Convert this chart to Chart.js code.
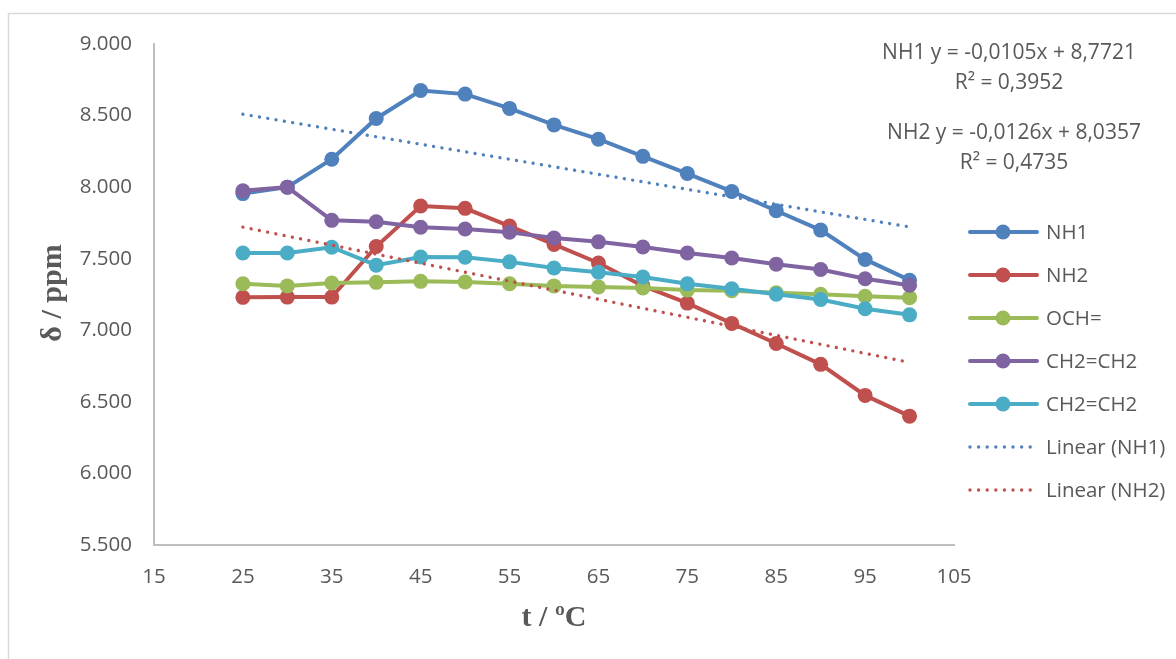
<!DOCTYPE html>
<html>
<head>
<meta charset="utf-8">
<script src="https://cdn.jsdelivr.net/npm/chart.js@4/dist/chart.umd.min.js"></script>
<style>
html,body{margin:0;padding:0;background:#fff;}
#wrap{position:relative;width:1176px;height:659px;}
canvas{display:block;}
</style>
</head>
<body>
<div id="wrap"><canvas id="c" width="1176" height="659"></canvas></div>
<script>
// ---- data ----
const temps = [25, 30, 35, 40, 45, 50, 55, 60, 65, 70, 75, 80, 85, 90, 95, 100];
const nh1   = [7.955, 8.000, 8.195, 8.480, 8.675, 8.650, 8.550, 8.435, 8.335, 8.215, 8.095, 7.970, 7.835, 7.700, 7.495, 7.350];
const nh2   = [7.230, 7.232, 7.232, 7.585, 7.868, 7.852, 7.728, 7.600, 7.470, 7.310, 7.190, 7.048, 6.908, 6.762, 6.545, 6.400];
const och   = [7.325, 7.310, 7.330, 7.335, 7.342, 7.337, 7.325, 7.310, 7.303, 7.295, 7.282, 7.277, 7.262, 7.252, 7.238, 7.228];
const ch2a  = [7.975, 8.000, 7.768, 7.758, 7.720, 7.708, 7.685, 7.645, 7.618, 7.582, 7.540, 7.505, 7.462, 7.425, 7.360, 7.315];
const ch2b  = [7.540, 7.540, 7.580, 7.455, 7.512, 7.510, 7.478, 7.435, 7.405, 7.372, 7.325, 7.290, 7.252, 7.215, 7.150, 7.108];
const seriesNames = ['NH1', 'NH2', 'OCH=', 'CH2=CH2', 'CH2=CH2', 'Linear (NH1)', 'Linear (NH2)'];
const trendNH1 = { slope: -0.0105, intercept: 8.7721, r2: '0,3952' };
const trendNH2 = { slope: -0.0126, intercept: 8.0357, r2: '0,4735' };
const xTicks = [15, 25, 35, 45, 55, 65, 75, 85, 95, 105];
const yTicks = [5.5, 6.0, 6.5, 7.0, 7.5, 8.0, 8.5, 9.0];

// ---- styles ----
const colors = ['#4F81BD', '#C0504D', '#9BBB59', '#8064A2', '#4BACC6', '#4F81BD', '#C0504D'];
const FONT = '"Open Sans", "Liberation Sans", sans-serif';
const TXT = '#595959';

const pts = arr => temps.map((t, i) => ({ x: t, y: arr[i] }));
const trendPts = tr => [temps[0], temps[temps.length - 1]].map(t => ({ x: t, y: tr.slope * t + tr.intercept }));

const mainSeries = [nh1, nh2, och, ch2a, ch2b];
const datasets = mainSeries.map((arr, i) => ({
  label: seriesNames[i],
  data: pts(arr),
  borderColor: colors[i],
  backgroundColor: colors[i],
  borderWidth: 4,
  pointRadius: 7.5,
  pointHoverRadius: 7.5,
  pointBorderWidth: 0,
  tension: 0,
  order: 10 - i,
  isTrend: false
}));
[trendNH1, trendNH2].forEach((tr, k) => {
  datasets.push({
    label: seriesNames[5 + k],
    data: trendPts(tr),
    borderColor: colors[5 + k],
    backgroundColor: colors[5 + k],
    borderWidth: 3.4,
    borderDash: [0.01, 8.4],
    borderCapStyle: 'round',
    pointRadius: 0,
    order: 2 - k,
    isTrend: true
  });
});

const extras = {
  id: 'extras',
  beforeDraw(chart) {
    const ctx = chart.ctx;
    ctx.save();
    ctx.fillStyle = '#fff';
    ctx.fillRect(0, 0, chart.width, chart.height);
    ctx.strokeStyle = '#d9d9d9';
    ctx.lineWidth = 1.5;
    ctx.strokeRect(8.5, 13.5, 1300, 800);
    ctx.restore();
  },
  afterDraw(chart) {
    const ctx = chart.ctx;
    ctx.save();
    // axis titles
    ctx.fillStyle = TXT;
    ctx.font = 'bold 30px "Liberation Serif", "DejaVu Serif", serif';
    ctx.textAlign = 'center';
    ctx.textBaseline = 'middle';
    ctx.fillText('t / ºC', 554, 618);
    ctx.save();
    ctx.translate(53, 293);
    ctx.rotate(-Math.PI / 2);
    ctx.fillText('δ / ppm', 0, 0);
    ctx.restore();

    // trendline equations
    ctx.font = '21px ' + FONT;
    const fmt = v => v.toFixed(4).replace('.', ',');
    const eq = (name, tr) => name + ' y = ' + fmt(tr.slope) + 'x + ' + fmt(tr.intercept);
    ctx.fillText(eq('NH1', trendNH1), 1009, 53);
    ctx.fillText('R² = ' + trendNH1.r2, 1009, 83);
    ctx.fillText(eq('NH2', trendNH2), 1014, 133);
    ctx.fillText('R² = ' + trendNH2.r2, 1014, 163);

    // legend
    ctx.font = '20.5px ' + FONT;
    ctx.textAlign = 'left';
    chart.data.datasets.forEach((ds, i) => {
      const y = 232 + i * 43;
      ctx.strokeStyle = ds.borderColor;
      ctx.fillStyle = ds.borderColor;
      if (ds.isTrend) {
        for (let x = 970; x <= 1033; x += 8.6) {
          ctx.beginPath();
          ctx.arc(x, y, 1.7, 0, Math.PI * 2);
          ctx.fill();
        }
      } else {
        ctx.lineWidth = 4;
        ctx.lineCap = 'round';
        ctx.beginPath();
        ctx.moveTo(970, y);
        ctx.lineTo(1037, y);
        ctx.stroke();
        ctx.beginPath();
        ctx.arc(1003, y, 7.5, 0, Math.PI * 2);
        ctx.fill();
      }
      ctx.fillStyle = TXT;
      ctx.fillText(ds.label, 1046, y + 1);
    });
    ctx.restore();
  }
};

new Chart(document.getElementById('c'), {
  type: 'line',
  data: { datasets },
  options: {
    responsive: false,
    devicePixelRatio: 1,
    animation: false,
    events: [],
    layout: { padding: { left: 0, top: 44, right: 222, bottom: 0 } },
    plugins: { legend: { display: false }, tooltip: { enabled: false } },
    scales: {
      x: {
        type: 'linear',
        min: 15, max: 105,
        afterBuildTicks: s => { s.ticks = xTicks.map(v => ({ value: v })); },
        afterFit: s => { s.height = 114; },
        grid: { display: false, drawTicks: false },
        border: { display: true, color: '#bfbfbf', width: 2 },
        ticks: { color: TXT, font: { family: FONT, size: 20.5 }, padding: 20, maxRotation: 0, autoSkip: false }
      },
      y: {
        type: 'linear',
        min: 5.5, max: 9,
        afterBuildTicks: s => { s.ticks = yTicks.map(v => ({ value: v })); },
        afterFit: s => { s.width = 154; },
        grid: { display: false, drawTicks: false },
        border: { display: true, color: '#bfbfbf', width: 2 },
        ticks: { color: TXT, font: { family: FONT, size: 20.5 }, padding: 22, callback: v => Number(v).toFixed(3) }
      }
    }
  },
  plugins: [extras]
});
</script>
</body>
</html>
